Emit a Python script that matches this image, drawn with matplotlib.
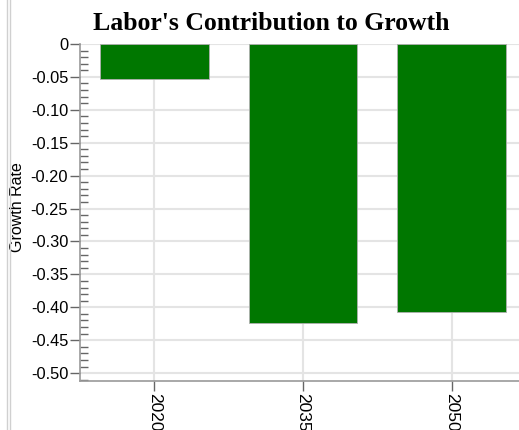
import matplotlib
matplotlib.use("Agg")
import matplotlib.pyplot as plt
from matplotlib.ticker import MultipleLocator
from matplotlib.lines import Line2D

categories = ["2020", "2035", "2050"]
values = [-0.053, -0.424, -0.407]
yticks = [0, -0.05, -0.10, -0.15, -0.20, -0.25, -0.30, -0.35, -0.40, -0.45, -0.50]
ytick_labels = ["0", "-0.05", "-0.10", "-0.15", "-0.20", "-0.25", "-0.30", "-0.35", "-0.40", "-0.45", "-0.50"]

W, H = 519, 430
fig = plt.figure(figsize=(W / 100, H / 100), dpi=100)
ax = fig.add_axes([80 / W, (H - 381) / H, 446 / W, 337 / H])

x = list(range(len(categories)))
ax.bar(x, values, width=0.73, color="#007700", edgecolor="#b0b0b0", linewidth=0.6, zorder=3)

ax.set_xlim(-0.5, 2.5)
ax.set_ylim(-0.512, 0)
ax.set_yticks(yticks)
ax.set_yticklabels(ytick_labels, fontsize=11.8, family="Liberation Sans")
ax.yaxis.set_minor_locator(MultipleLocator(0.01))
ax.tick_params(axis="y", which="major", direction="out", length=7.5, width=1, color="#666666", pad=1)
ax.tick_params(axis="y", which="minor", direction="in", length=6, width=1, color="#666666")
ax.set_xticks(x)
ax.set_xticklabels(categories, rotation=270, fontsize=12.5, family="Liberation Sans")
ax.tick_params(axis="x", which="major", direction="out", length=7.5, width=1, color="#666666", pad=1)

ax.grid(True, color="#e4e4e4", linewidth=1.5, zorder=0)
ax.set_axisbelow(True)
for s in ["top", "right"]:
    ax.spines[s].set_visible(False)
for s in ["left", "bottom"]:
    ax.spines[s].set_color("#999999")
    ax.spines[s].set_linewidth(1.2)

ax.set_ylabel("Growth Rate", fontsize=11.5, family="Liberation Sans")
ax.yaxis.label.set_va("center")
ax.yaxis.set_label_coords((17.5 - 80) / 446, (381 - 207) / 337)

fig.text(271 / W, 1 - 23 / H, "Labor's Contribution to Growth", ha="center", va="center",
         fontsize=18.5, fontweight="bold", family="Liberation Serif")

for xp in [7, 10]:
    fig.add_artist(Line2D([xp / W, xp / W], [0, 1], color="#d0d0d0", linewidth=1, transform=fig.transFigure))

fig.savefig("out.png", dpi=100)
